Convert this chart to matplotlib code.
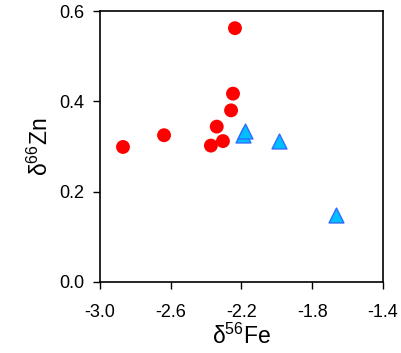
import matplotlib
matplotlib.use("Agg")
import matplotlib.pyplot as plt

plt.rcParams['font.family'] = ['Liberation Sans', 'DejaVu Sans']
plt.rcParams['mathtext.fontset'] = 'custom'
plt.rcParams['mathtext.rm'] = 'Liberation Sans'
plt.rcParams['mathtext.it'] = 'Liberation Sans'

red_fe = [-2.870, -2.638, -2.237, -2.248, -2.259, -2.340, -2.305, -2.373]
red_zn = [0.299, 0.325, 0.562, 0.417, 0.380, 0.344, 0.312, 0.302]
blue_fe = [-2.190, -2.182, -1.988, -1.664]
blue_zn = [0.326, 0.334, 0.312, 0.148]

xticks = [-3.0, -2.6, -2.2, -1.8, -1.4]
yticks = [0.0, 0.2, 0.4, 0.6]

fig = plt.figure(figsize=(4.01, 3.53), dpi=100)
ax = fig.add_axes([100/401, 1-282/353, 283/401, 271/353])

ax.scatter(red_fe, red_zn, s=100, c='#ff0000', edgecolors='none', zorder=3)
ax.scatter(blue_fe, blue_zn, s=115, marker='^', c='#00bfff', edgecolors='#2f6cff', linewidths=1.0, zorder=3)

ax.set_xlim(-3.0, -1.4)
ax.set_ylim(0.0, 0.6)
ax.set_xticks(xticks)
ax.set_yticks(yticks)
ax.set_xticklabels([f"{v:.1f}" for v in xticks], fontsize=13)
ax.set_yticklabels([f"{v:.1f}" for v in yticks], fontsize=13)
ax.tick_params(direction='out', length=5, width=1)
ax.tick_params(axis='x', pad=11)
ax.tick_params(axis='y', pad=6)
for s in ax.spines.values():
    s.set_linewidth(1.2)

ax.set_xlabel(r"δ$^{56}$Fe", fontsize=16.5, labelpad=2)
ax.set_ylabel(r"δ$^{66}$Zn", fontsize=16.5, labelpad=5)

fig.savefig("out.png", dpi=100)
